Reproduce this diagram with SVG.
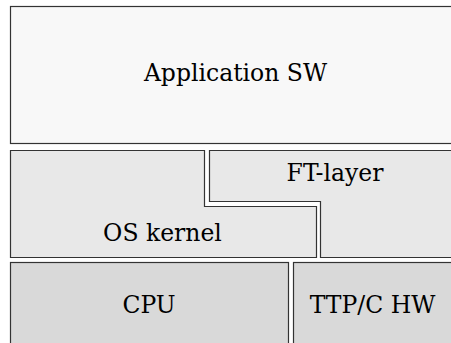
<svg xmlns="http://www.w3.org/2000/svg" width="451" height="343" viewBox="0 0 451 343">
<style>
.box{stroke:#333;stroke-width:1.2;}
.l1{fill:#f8f8f8;}
.l2{fill:#e8e8e8;}
.l3{fill:#d9d9d9;}
.t{font-family:"DejaVu Serif",serif;font-size:23.5px;fill:#000;text-anchor:middle;}
</style>
<rect x="0" y="0" width="451" height="343" fill="#fff"/>
<g id="app">
<rect class="box l1" x="10.5" y="6.5" width="450" height="137"/>
<text class="t" x="235.5" y="81">Application SW</text>
</g>
<g id="os">
<path class="box l2" d="M10.5,150.5 H204.5 V206.5 H316.5 V257.5 H10.5 Z"/>
<text class="t" x="162.5" y="241">OS kernel</text>
</g>
<g id="ft">
<path class="box l2" d="M209.5,150.5 H460 V257.5 H320.5 V201.5 H209.5 Z"/>
<text class="t" x="335" y="181">FT-layer</text>
</g>
<g id="cpu">
<rect class="box l3" x="10.5" y="262.5" width="278" height="90"/>
<text class="t" x="149" y="313">CPU</text>
</g>
<g id="ttp">
<rect class="box l3" x="293.5" y="262.5" width="170" height="90"/>
<text class="t" x="372.5" y="313">TTP/C HW</text>
</g>
<g id="connectors"></g>
</svg>
